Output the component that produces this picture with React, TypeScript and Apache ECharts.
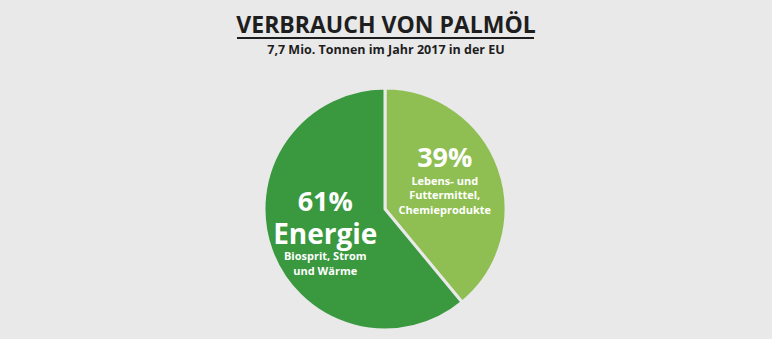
import React, { useEffect, useRef } from "react";
import * as echarts from "echarts";

const categories = ["Lebens- und Futtermittel, Chemieprodukte", "Energie"];
const values = [39, 61];
const percentLabels = ["39%", "61%"];
const headLines = ["", "Energie"];
const subLines = [["Lebens- und", "Futtermittel,", "Chemieprodukte"], ["Biosprit, Strom", "und Wärme"]];
const colors = ["#8fbf52", "#3a983f"];
const titleText = "VERBRAUCH VON PALMÖL";
const subtitleText = "7,7 Mio. Tonnen im Jahr 2017 in der EU";

export default function App() {
  const ref = useRef<HTMLDivElement>(null);
  useEffect(() => {
    document.body.style.margin = "0";
    const chart = echarts.init(ref.current!, null, { renderer: "svg" });
    const font = "'Open Sans', 'Noto Sans', sans-serif";
    chart.setOption({
      animation: false,
      backgroundColor: "#e9e9e9",
      title: {
        text: titleText,
        subtext: subtitleText,
        left: "center",
        top: 7,
        itemGap: 8,
        textStyle: { fontFamily: font, fontWeight: "bold", fontSize: 23, color: "#1e1e1e" },
        subtextStyle: { fontFamily: font, fontWeight: "bold", fontSize: 12.5, color: "#1e1e1e" },
      },
      graphic: [
        {
          type: "line",
          shape: { x1: 237, y1: 38, x2: 534, y2: 38 },
          style: { stroke: "#1e1e1e", lineWidth: 2 },
        },
      ],
      series: [
        {
          type: "pie",
          center: [385, 209],
          radius: [0, 121],
          startAngle: 90,
          clockwise: true,
          itemStyle: { borderColor: "#e9e9e9", borderWidth: 3 },
          label: {
            show: true,
            position: "inside",
            fontFamily: font,
            color: "#ffffff",
            formatter: (p: any) => {
              const i = p.dataIndex;
              const parts = [`{pct|${percentLabels[i]}}`];
              if (headLines[i]) parts.push(`{head|${headLines[i]}}`);
              subLines[i].forEach((s) => parts.push(`{sub|${s}}`));
              return parts.join("\n");
            },
            rich: {
              pct: { fontFamily: font, fontWeight: "bold", fontSize: 27, color: "#fff", lineHeight: 33 },
              head: { fontFamily: font, fontWeight: "bold", fontSize: 28, color: "#fff", lineHeight: 32 },
              sub: { fontFamily: font, fontWeight: "bold", fontSize: 11, color: "#fff", lineHeight: 14.5 },
            },
          },
          labelLine: { show: false },
          data: categories.map((c, i) => ({
            name: c,
            value: values[i],
            itemStyle: { color: colors[i] },
            label: i === 0 ? { padding: [0, 0, 18, 0] } : { padding: [0, 0, 0, 0] },
          })),
        },
      ],
    });
    return () => chart.dispose();
  }, []);
  return <div ref={ref} style={{ width: 772, height: 339 }} />;
}
